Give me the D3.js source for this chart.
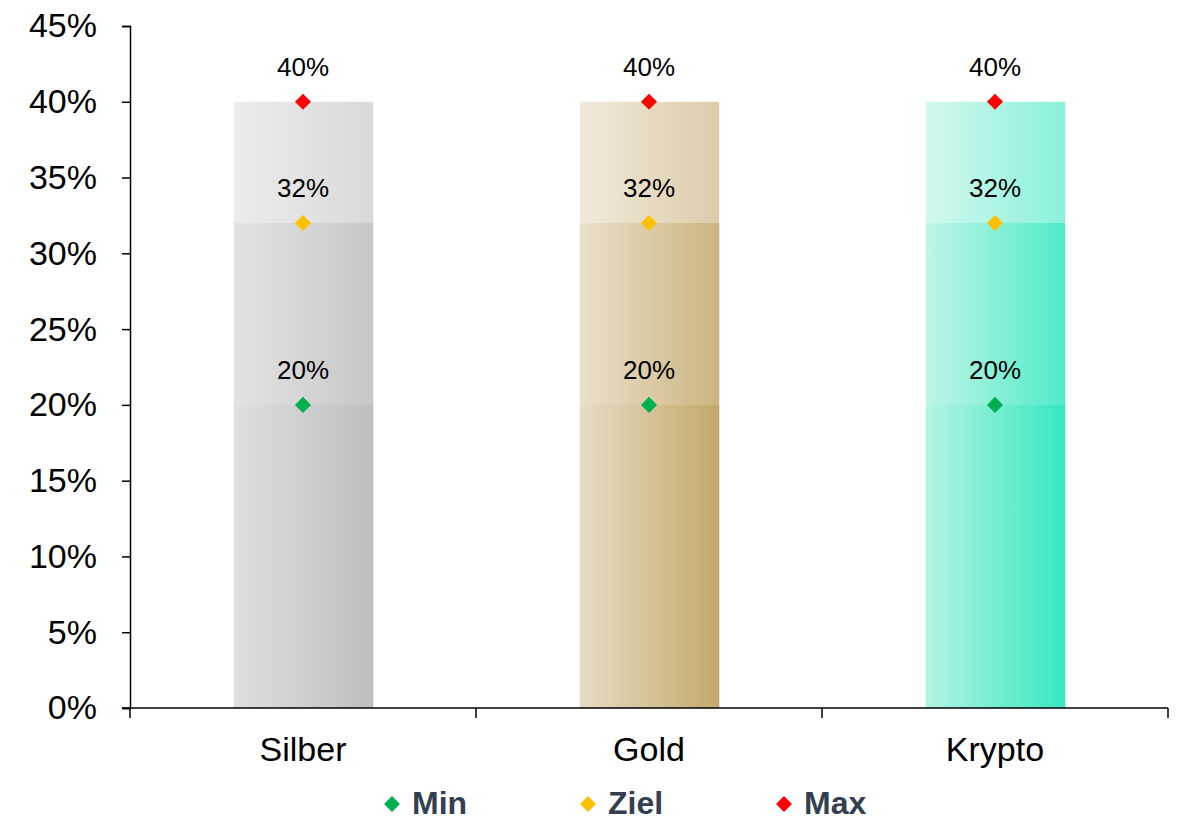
<!DOCTYPE html>
<html>
<head>
<meta charset="utf-8">
<script src="https://cdn.jsdelivr.net/npm/d3@7"></script>
<style>
  body { margin: 0; background: #fff; }
  text { font-family: "Liberation Sans", Arial, sans-serif; }
</style>
</head>
<body>
<div id="vis"></div>
<script>
const FRAME_WIDTH = 1179;
const FRAME_HEIGHT = 822;
const MARGINS = {left: 130, right: 11, top: 26, bottom: 114};

// data
const categories = ['Silber', 'Gold', 'Krypto'];
const minValues = [0.20, 0.20, 0.20];
const zielValues = [0.32, 0.32, 0.32];
const maxValues = [0.40, 0.40, 0.40];
const seriesNames = ['Min', 'Ziel', 'Max'];
const yTicks = [0, 0.05, 0.10, 0.15, 0.20, 0.25, 0.30, 0.35, 0.40, 0.45];

// bar gradient colors (left, right) per category
const barColors = [
  ['#dbdbdb', '#b7b7b7'],
  ['#e3d8bd', '#bd9f5b'],
  ['#acf2e0', '#20e5b9']
];
const markerColors = ['#00b050', '#ffc000', '#ff0000'];

const VIS_WIDTH = FRAME_WIDTH - MARGINS.left - MARGINS.right;
const VIS_HEIGHT = FRAME_HEIGHT - MARGINS.top - MARGINS.bottom;

const svg = d3.select('#vis')
  .append('svg')
    .attr('width', FRAME_WIDTH)
    .attr('height', FRAME_HEIGHT);

const defs = svg.append('defs');
barColors.forEach((c, i) => {
  const g = defs.append('linearGradient')
    .attr('id', 'grad' + i)
    .attr('x1', '0%').attr('x2', '100%')
    .attr('y1', '0%').attr('y2', '0%');
  g.append('stop').attr('offset', '0%').attr('stop-color', c[0]);
  g.append('stop').attr('offset', '100%').attr('stop-color', c[1]);
});

const X_SCALE = d3.scaleBand()
  .domain(categories)
  .range([0, VIS_WIDTH])
  .paddingInner(0.6)
  .paddingOuter(0.3);

const Y_SCALE = d3.scaleLinear()
  .domain([0, 0.45])
  .range([VIS_HEIGHT, 0]);

const plot = svg.append('g')
  .attr('transform', 'translate(' + MARGINS.left + ',' + MARGINS.top + ')');

// overlapping translucent bars: max, ziel, min
const layers = [maxValues, zielValues, minValues];
layers.forEach(vals => {
  plot.selectAll(null)
    .data(categories)
    .enter()
    .append('rect')
      .attr('x', d => X_SCALE(d))
      .attr('width', X_SCALE.bandwidth() + 1)
      .attr('y', (d, i) => Y_SCALE(vals[i]))
      .attr('height', (d, i) => VIS_HEIGHT - Y_SCALE(vals[i]))
      .attr('fill', (d, i) => 'url(#grad' + i + ')')
      .attr('opacity', 0.53);
});

// y axis
const yAxis = plot.append('g')
  .call(d3.axisLeft(Y_SCALE).tickValues(yTicks).tickFormat(d3.format('.0%')).tickSize(8).tickSizeOuter(8).tickPadding(25));
yAxis.selectAll('text').attr('font-size', '34px').attr('fill', '#000')
  .style('font-family', '"Liberation Sans", Arial, sans-serif');
yAxis.selectAll('line, path').attr('stroke', '#000').attr('stroke-width', 1.5);

// x axis with ticks at band boundaries
const xAxisG = plot.append('g')
  .attr('transform', 'translate(0,' + VIS_HEIGHT + ')');
xAxisG.append('line')
  .attr('x1', -8).attr('x2', VIS_WIDTH)
  .attr('stroke', '#000').attr('stroke-width', 1.5);
const boundaries = d3.range(categories.length + 1).map(i => i * VIS_WIDTH / categories.length);
xAxisG.selectAll('.xt')
  .data(boundaries)
  .enter()
  .append('line')
    .attr('x1', d => d).attr('x2', d => d)
    .attr('y1', 0).attr('y2', 10)
    .attr('stroke', '#000').attr('stroke-width', 1.5);
xAxisG.selectAll('.xl')
  .data(categories)
  .enter()
  .append('text')
    .attr('x', d => X_SCALE(d) + X_SCALE.bandwidth() / 2)
    .attr('y', 53)
    .attr('text-anchor', 'middle')
    .attr('font-size', '34px')
    .attr('fill', '#000')
    .text(d => d);

// markers and labels
const diamond = d3.symbol().type(d3.symbolDiamond2).size(165);
[minValues, zielValues, maxValues].forEach((vals, s) => {
  const g = plot.append('g');
  g.selectAll('path')
    .data(categories)
    .enter()
    .append('path')
      .attr('d', diamond)
      .attr('transform', (d, i) => 'translate(' + (X_SCALE(d) + X_SCALE.bandwidth() / 2) + ',' + Y_SCALE(vals[i]) + ')')
      .attr('fill', markerColors[s]);
  g.selectAll('text')
    .data(categories)
    .enter()
    .append('text')
      .attr('x', d => X_SCALE(d) + X_SCALE.bandwidth() / 2)
      .attr('y', (d, i) => Y_SCALE(vals[i]) - 26)
      .attr('text-anchor', 'middle')
      .attr('font-size', '26px')
      .attr('fill', '#000')
      .text((d, i) => d3.format('.0%')(vals[i]));
});

// legend
const legendX = [392, 588, 784];
const legend = svg.append('g').attr('transform', 'translate(0,804)');
seriesNames.forEach((name, i) => {
  legend.append('path')
    .attr('d', d3.symbol().type(d3.symbolDiamond2).size(160))
    .attr('transform', 'translate(' + legendX[i] + ',0)')
    .attr('fill', markerColors[i]);
  legend.append('text')
    .attr('x', legendX[i] + 20)
    .attr('y', 10)
    .attr('font-size', '32px')
    .attr('font-weight', 'bold')
    .attr('fill', '#333f50')
    .text(name);
});
</script>
</body>
</html>
